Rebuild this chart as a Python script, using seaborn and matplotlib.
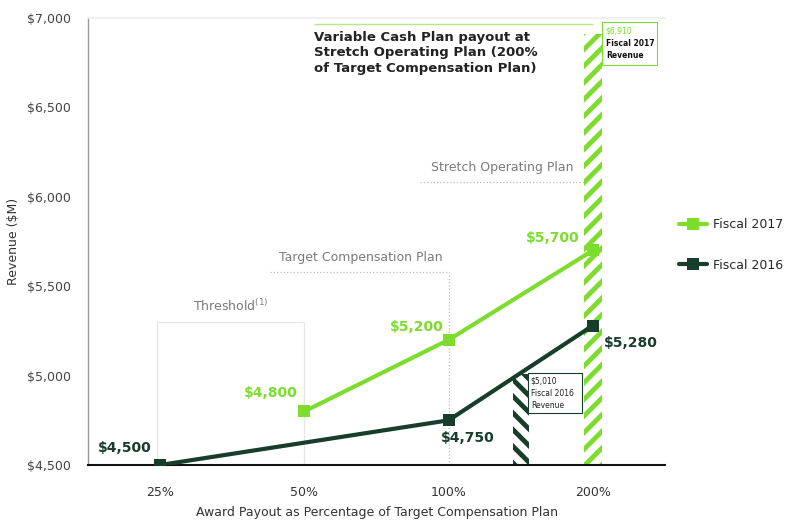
import pandas as pd
import matplotlib
matplotlib.use("Agg")
import matplotlib.pyplot as plt
from matplotlib.patches import Rectangle
import seaborn as sns

# data
payout = ["25%", "50%", "100%", "200%"]
fy2017 = [None, 4800, 5200, 5700]
fy2016 = [4500, None, 4750, 5280]
rev2017 = 6910
rev2016 = 5010
rev2016_pos = 2.5   # between 100% and 200%

green = "#7ddc2e"
dark = "#173d2b"
grey = "#7a7a7a"

sns.set_theme(style="white")
plt.rcParams["font.family"] = ["DejaVu Sans"]
plt.rcParams["hatch.linewidth"] = 3.5

rows = []
for i, p in enumerate(payout):
    if fy2017[i] is not None:
        rows.append({"pos": i, "rev": fy2017[i], "series": "Fiscal 2017"})
    if fy2016[i] is not None:
        rows.append({"pos": i, "rev": fy2016[i], "series": "Fiscal 2016"})
df = pd.DataFrame(rows)

fig = plt.figure(figsize=(7.88, 5.23), dpi=100)
ax = fig.add_axes([88 / 788, 58 / 523, 577 / 788, 447 / 523])

# hatched revenue bars
ax.bar([3], [rev2017 - 4500], bottom=4500, width=0.12, facecolor="white",
       edgecolor=green, hatch="//", linewidth=0, zorder=1)
ax.bar([rev2016_pos], [rev2016 - 4500], bottom=4500, width=0.11, facecolor="white",
       edgecolor=dark, hatch="\\\\", linewidth=0, zorder=1)

sns.lineplot(data=df, x="pos", y="rev", hue="series",
             palette={"Fiscal 2017": green, "Fiscal 2016": dark},
             hue_order=["Fiscal 2017", "Fiscal 2016"],
             marker="s", markersize=9, markeredgewidth=0, linewidth=3,
             ax=ax, zorder=3, legend=True)

# reference guides
ax.hlines(6965, 1.07, 3.0, color=green, lw=1, alpha=0.6, zorder=0)
ax.hlines(6085, 1.8, 2.96, color="#bbbbbb", lw=0.9, ls=":", zorder=0)
ax.hlines(5580, 0.76, 2.0, color="#bbbbbb", lw=0.9, ls=":", zorder=0)
ax.vlines(2.0, 4500, 5580, color="#bbbbbb", lw=0.9, ls=":", zorder=0)
ax.hlines(5300, -0.02, 1.0, color="#e6e6e6", lw=0.9, zorder=0)
ax.vlines([-0.02, 1.0], 4500, 5300, color="#e6e6e6", lw=0.9, zorder=0)

ax.text(1.07, 6930, "Variable Cash Plan payout at\nStretch Operating Plan (200%\nof Target Compensation Plan)",
        fontsize=9.5, fontweight="bold", color="#222222", va="top", ha="left", linespacing=1.25)
ax.text(2.37, 6130, "Stretch Operating Plan", fontsize=9, color=grey, ha="center", va="bottom")
ax.text(1.39, 5625, "Target Compensation Plan", fontsize=9, color=grey, ha="center", va="bottom")
ax.text(0.49, 5345, "Threshold$^{(1)}$", fontsize=9, color=grey, ha="center", va="bottom")

# value labels
for x, y, s in [(0.77, 4903, "$4,800"), (1.78, 5272, "$5,200"), (2.72, 5770, "$5,700")]:
    ax.text(x, y, s, color=green, fontsize=10, fontweight="bold", ha="center", va="center")
for x, y, s in [(-0.245, 4595, "$4,500"), (2.13, 4651, "$4,750"), (3.26, 5182, "$5,280")]:
    ax.text(x, y, s, color=dark, fontsize=10, fontweight="bold", ha="center", va="center")

# revenue callouts
ax.add_patch(Rectangle((3.066, 6737), 0.38, 240, fc="white", ec=green, lw=0.8, zorder=2))
ax.text(3.09, 6955, "$" + f"{rev2017:,}", fontsize=5.5, color=green, va="top", ha="left", zorder=4)
ax.text(3.09, 6885, "Fiscal 2017\nRevenue", fontsize=5.5, color="#111111", fontweight="bold",
        va="top", ha="left", linespacing=1.5, zorder=4)
ax.add_patch(Rectangle((2.548, 4791), 0.38, 224, fc="white", ec=dark, lw=0.8, zorder=2))
ax.text(2.57, 4995, "$" + f"{rev2016:,}" + "\nFiscal 2016\nRevenue", fontsize=5.5, color="#222222",
        va="top", ha="left", linespacing=1.5, zorder=4)

ax.set_xlim(-0.5, 3.5)
ax.set_ylim(4500, 7000)
ax.set_xticks(range(len(payout)))
ax.set_xticklabels(payout)
ax.set_xticks([0.5, 1.5, 2.5], minor=True)
ax.tick_params(axis="x", which="major", length=0, pad=15, labelsize=9, labelcolor="#333333")
ax.tick_params(axis="x", which="minor", direction="in", length=4, width=0.8, color="#444444")
ax.set_yticks([4500, 5000, 5500, 6000, 6500, 7000])
ax.set_yticklabels(["$4,500", "$5,000", "$5,500", "$6,000", "$6,500", "$7,000"])
ax.tick_params(axis="y", length=0, pad=12, labelsize=9, labelcolor="#444444")

ax.set_xlabel("Award Payout as Percentage of Target Compensation Plan", fontsize=9, color="#333333", labelpad=5)
ax.set_ylabel("Revenue ($M)", fontsize=9, color="#333333")
ax.yaxis.set_label_coords(-0.118, 0.5)

ax.spines["right"].set_visible(False)
ax.spines["top"].set_color("#eeeeee")
ax.spines["left"].set_color("#999999")
ax.spines["left"].set_linewidth(1)
ax.spines["bottom"].set_color("#111111")
ax.spines["bottom"].set_linewidth(1.5)

h, l = ax.get_legend_handles_labels()
ax.legend_.remove()
fig.legend(h, l, loc="upper left", bbox_to_anchor=(668 / 788, 1 - 207 / 523), frameon=False,
           fontsize=9, labelspacing=2.2, handlelength=2.2, handletextpad=0.5)

fig.savefig("out.png", dpi=100)
